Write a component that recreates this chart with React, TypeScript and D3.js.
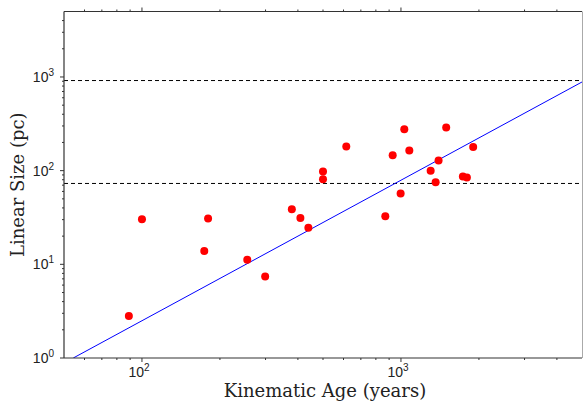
import * as d3 from 'd3';
import React from 'react';

// kinematic age (years) vs linear size (pc)
const ages = [
  89, 100, 180, 174, 255, 299, 379, 409, 439, 500, 500, 615,
  1030, 1495, 929, 1077, 1900, 1397, 1302, 1734, 1797, 1361, 997, 870,
];
const sizes = [
  2.8, 30.3, 30.9, 13.9, 11.2, 7.4, 38.8, 31.3, 24.5, 97.8, 81, 181,
  276, 288, 146, 164, 179, 128, 100, 86.5, 84.4, 75.2, 57, 32.6,
];

// power-law fit end points and reference levels
const fitAges = [54.3, 5000];
const fitSizes = [1, 884];
const refLevels = [73, 916];

const xDomain = [50, 5000];
const yDomain = [1, 5000];
const xMajor = [100, 1000];
const yMajor = [1, 10, 100, 1000];
const tickExp = ['0', '1', '2', '3'];

const W = 583;
const H = 403;
const M = { left: 64, right: 1, top: 11.5, bottom: 45 };

const sans = { fontFamily: 'Liberation Sans, Arial, Helvetica, sans-serif' };
const serif = { fontFamily: 'DejaVu Serif, serif' };

function minorTicks(lo: number, hi: number) {
  const out: number[] = [];
  for (let d = 1; d <= 10000; d *= 10) {
    for (let k = 2; k <= 9; k++) {
      const v = k * d;
      if (v > lo && v < hi) out.push(v);
    }
  }
  return out;
}

export default function App() {
  const x = d3.scaleLog().domain(xDomain).range([M.left, W - M.right]);
  const y = d3.scaleLog().domain(yDomain).range([H - M.bottom, M.top]);
  const x0 = M.left;
  const x1 = W - M.right;
  const y0 = H - M.bottom;
  const y1 = M.top;
  const axisColor = '#333';

  const fitLine = d3
    .line<number>()
    .x((d) => x(d))
    .y((d, i) => y(fitSizes[i]));

  const xMinor = minorTicks(xDomain[0], xDomain[1]);
  const yMinor = minorTicks(yDomain[0], yDomain[1]);

  return (
    <svg
      width={W}
      height={H}
      style={{ position: 'absolute', left: 0, top: 0, background: '#fff' }}
    >
      <defs>
        <clipPath id="plot">
          <rect x={x0} y={y1} width={x1 - x0} height={y0 - y1} />
        </clipPath>
      </defs>

      <g clipPath="url(#plot)">
        {refLevels.map((v) => (
          <line
            key={v}
            x1={x0}
            x2={x1}
            y1={y(v)}
            y2={y(v)}
            stroke="#000"
            strokeWidth={1}
            strokeDasharray="4,3"
          />
        ))}
        <path d={fitLine(fitAges) ?? ''} fill="none" stroke="#0000ff" strokeWidth={1} />
        {ages.map((a, i) => (
          <circle key={i} cx={x(a)} cy={y(sizes[i])} r={4} fill="#ff0000" />
        ))}
      </g>

      {/* spines */}
      <line x1={x0} x2={x1} y1={y0} y2={y0} stroke={axisColor} strokeWidth={1.2} />
      <line x1={x0} x2={x1} y1={y1} y2={y1} stroke={axisColor} strokeWidth={1.2} />
      <line x1={x0} x2={x0} y1={y0} y2={y1} stroke={axisColor} strokeWidth={1.2} />
      <line x1={x1 + 0.5} x2={x1 + 0.5} y1={y0} y2={y1} stroke="#aaa" strokeWidth={1} />

      {/* x ticks, bottom and top */}
      {xMajor.map((v) => (
        <g key={'xm' + v}>
          <line x1={x(v)} x2={x(v)} y1={y0} y2={y0 + 4} stroke={axisColor} />
          <line x1={x(v)} x2={x(v)} y1={y1} y2={y1 - 4} stroke={axisColor} />
        </g>
      ))}
      {xMinor.map((v) => (
        <g key={'xn' + v}>
          <line x1={x(v)} x2={x(v)} y1={y0} y2={y0 + 2} stroke={axisColor} />
          <line x1={x(v)} x2={x(v)} y1={y1} y2={y1 - 2} stroke={axisColor} />
        </g>
      ))}
      {xMajor.map((v, i) => (
        <text
          key={'xl' + v}
          x={x(v) - 3}
          y={y0 + 19}
          textAnchor="middle"
          style={sans}
          fontSize={14}
          fill="#222"
        >
          10
          <tspan fontSize={10} dy={-6}>
            {tickExp[i + 2]}
          </tspan>
        </text>
      ))}

      {/* y ticks */}
      {yMajor.map((v) => (
        <line key={'ym' + v} x1={x0} x2={x0 - 4} y1={y(v)} y2={y(v)} stroke={axisColor} />
      ))}
      {yMinor.map((v) => (
        <line key={'yn' + v} x1={x0} x2={x0 - 2} y1={y(v)} y2={y(v)} stroke={axisColor} />
      ))}
      {yMajor.map((v, i) => (
        <text
          key={'yl' + v}
          x={x0 - 10}
          y={y(v) + 5}
          textAnchor="end"
          style={sans}
          fontSize={14}
          fill="#222"
        >
          10
          <tspan fontSize={10} dy={-6}>
            {tickExp[i]}
          </tspan>
        </text>
      ))}

      {/* axis titles */}
      <text
        x={(x0 + x1) / 2 + 2}
        y={397}
        textAnchor="middle"
        style={serif}
        fontSize={18}
        fill="#222"
      >
        Kinematic Age (years)
      </text>
      <text
        transform={`translate(24, ${(y0 + y1) / 2}) rotate(-90)`}
        textAnchor="middle"
        style={serif}
        fontSize={18}
        fill="#222"
      >
        Linear Size (pc)
      </text>
    </svg>
  );
}
